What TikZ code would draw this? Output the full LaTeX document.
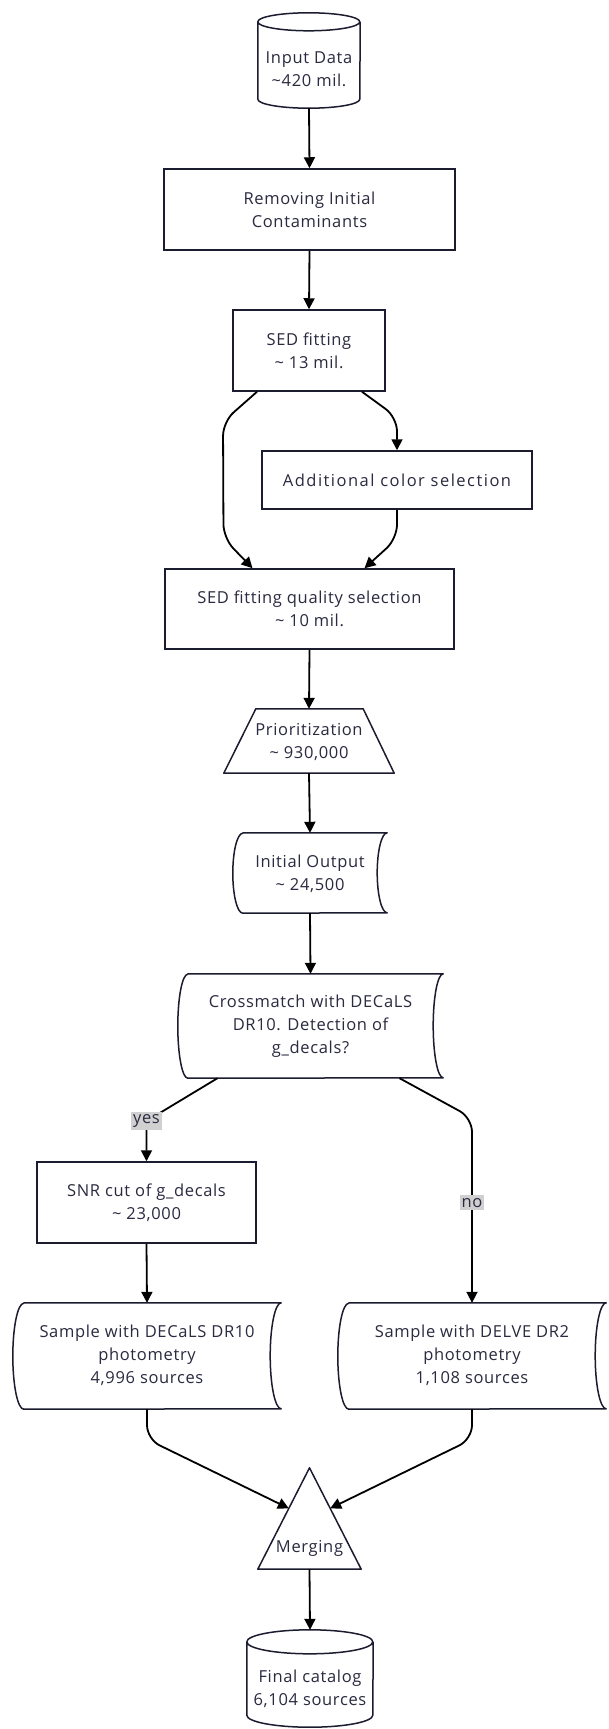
\documentclass[tikz,border=0pt]{standalone}
\usepackage{fontspec}
\setmainfont{Open Sans}[LetterSpace=4]
\newfontfamily\widefont{Open Sans}[LetterSpace=9]
\usetikzlibrary{arrows.meta,calc}
\definecolor{ink}{HTML}{2A2A40}
\definecolor{edgec}{HTML}{1C1C30}
\definecolor{lblbg}{HTML}{D0D0D0}
\tikzset{
  fnt/.style={font=\fontsize{16.5}{23}\selectfont},
  box/.style={draw=edgec, line width=1.5pt, inner sep=0pt, text=ink, align=center, fnt},
  shp/.style={draw=none, inner sep=0pt},
  txt/.style={text=ink, align=center, inner sep=0pt, fnt},
  outline/.style={draw=edgec, line width=1.5pt, line join=round},
  arr/.style={draw=black, line width=1.8pt, -{Triangle[width=11pt,length=11pt]}},
  lbl/.style={fill=lblbg, text=ink, inner xsep=2pt, inner ysep=3pt, fnt},
}
\newcommand\cylshape[3]{%
  \draw[outline] let \p1=(#1.north west), \p2=(#1.south east) in
    (\x1,\y1-#3) arc[start angle=180,end angle=-180,x radius=#2,y radius=#3]
    -- (\x1,\y2+#3) arc[start angle=180,end angle=360,x radius=#2,y radius=#3]
    -- (\x2,\y1-#3);}
\newcommand\storedshape[3]{%
  \draw[outline] let \p1=(#1.north west), \p2=(#1.south east) in
    (\x1+#2,\y1) -- (\x2,\y1)
    arc[start angle=90,end angle=270,x radius=#2,y radius=#3]
    -- (\x1+#2,\y2)
    arc[start angle=270,end angle=90,x radius=#2,y radius=#3] -- cycle;}
\begin{document}
\begin{tikzpicture}[x=1pt,y=-1pt]
\fill[white] (0,0) rectangle (608,1729);
\useasboundingbox (0,0) rectangle (608,1729);

% nodes
\node[shp, minimum width=102pt, minimum height=95pt] (inp) at (309,60.5) {};
\cylshape{inp}{51pt}{9pt}
\node[txt] (inpt) at (309,69) {Input Data\\\textasciitilde420 mil.};

\node[box, minimum width=291pt, minimum height=81pt] (rem) at (309.5,209.5) {Removing Initial\\Contaminants};
\node[box, minimum width=152pt, minimum height=81pt] (sed) at (309,350.5) {SED fitting\\\textasciitilde{} 13 mil.};
\node[box, minimum width=270pt, minimum height=58pt, font=\widefont\fontsize{16.5}{23}\selectfont] (add) at (397,480) {Additional color selection};
\node[box, minimum width=289pt, minimum height=80pt] (qual) at (309.5,609) {SED fitting quality selection\\\textasciitilde{} 10 mil.};

\node[shp, minimum width=170pt, minimum height=64pt] (prio) at (309,741) {};
\draw[outline] let \p1=(prio.north west), \p2=(prio.south east) in
  (\x1+32pt,\y1) -- (\x2-31pt,\y1) -- (\x2,\y2) -- (\x1,\y2) -- cycle;
\node[txt] (priot) at (309,741.5) {Prioritization\\\textasciitilde{} 930,000};

\node[shp, minimum width=154pt, minimum height=80pt] (init) at (310,873) {};
\storedshape{init}{10pt}{40pt}
\node[txt] (initt) at (310,873.5) {Initial Output\\\textasciitilde{} 24,500};

\node[shp, minimum width=265pt, minimum height=104pt] (cross) at (310.5,1026) {};
\storedshape{cross}{10pt}{52pt}
\node[txt] (crosst) at (310.5,1026) {Crossmatch with DECaLS\\DR10. Detection of\\g\_decals?};

\node[box, minimum width=219pt, minimum height=81pt] (snr) at (146.5,1202.5) {SNR cut of g\_decals\\\textasciitilde{} 23,000};

\node[shp, minimum width=268pt, minimum height=106pt] (decals) at (147,1356) {};
\storedshape{decals}{11pt}{53pt}
\node[txt] (decalst) at (147,1355) {Sample with DECaLS DR10\\photometry\\4,996 sources};

\node[shp, minimum width=268pt, minimum height=106pt] (delve) at (472,1356) {};
\storedshape{delve}{11pt}{53pt}
\node[txt] (delvet) at (472,1355) {Sample with DELVE DR2\\photometry\\1,108 sources};

\node[shp, minimum width=103pt, minimum height=101pt] (merge) at (309.5,1518.5) {};
\draw[outline] (merge.south west) -- (merge.north) -- (merge.south east) -- cycle;
\node[txt] (merget) at (309.5,1548) {Merging};

\node[shp, minimum width=126pt, minimum height=97pt] (fin) at (310,1678.5) {};
\cylshape{fin}{63pt}{12pt}
\node[txt] (fint) at (310,1688.5) {Final catalog\\6,104 sources};

% connectors
\draw[arr] (inp.south) -- (rem.north);
\draw[arr] (rem.south) -- (sed.north);
\draw[arr, rounded corners=14pt] ($(sed.south)+(-52,0)$) -- ($(sed.south)+(-86,30)$)
  -- ($(qual.north)+(-86,-30)$) -- ($(qual.north)+(-57,0)$);
\draw[arr, rounded corners=14pt] ($(sed.south)+(53,0)$) -- ($(add.north)+(0,-33)$) -- (add.north);
\draw[arr, rounded corners=14pt] (add.south) -- ($(add.south)+(0,29)$) -- ($(qual.north)+(55,0)$);
\draw[arr] (qual.south) -- (prio.north);
\draw[arr] (prio.south) -- (init.north);
\draw[arr] (init.south) -- (cross.north);

\coordinate (yesc) at (146.5,1121);
\draw[arr] ($(cross.south)+(-93,0)$) -- (yesc) -- (snr.north);
\node[lbl] (yes) at (yesc) {yes};

\draw[arr, rounded corners=14pt] ($(cross.south)+(89,0)$) -- ($(delve.north)+(0,-185)$) -- (delve.north);
\node[lbl] (no) at ($(delve.north)+(0,-100)$) {no};

\draw[arr] (snr.south) -- (decals.north);
\draw[arr, rounded corners=14pt] (decals.south) -- ($(decals.south)+(0,30)$)
  -- ($(merge.south west)!0.6!(merge.north)$);
\draw[arr, rounded corners=14pt] (delve.south) -- ($(delve.south)+(0,30)$)
  -- ($(merge.south east)!0.6!(merge.north)$);
\draw[arr] (merge.south) -- (fin.north);
\end{tikzpicture}
\end{document}
